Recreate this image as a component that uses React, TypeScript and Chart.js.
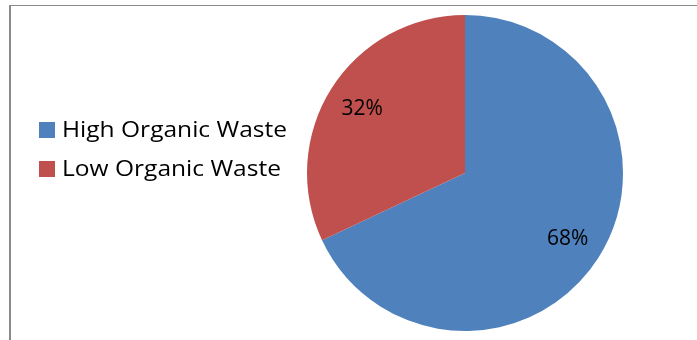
import React, { useEffect, useRef } from "react";
import { Chart, registerables } from "chart.js";

Chart.register(...registerables);

const categories = ["High Organic Waste", "Low Organic Waste"];
const shares = [68, 32];
const sliceColors = ["#4F81BD", "#C0504D"];
const FONT = "'Open Sans', sans-serif";

const labelPlugin = {
  id: "sliceLabels",
  afterDatasetsDraw(chart: any) {
    const ctx = chart.ctx;
    const meta = chart.getDatasetMeta(0);
    ctx.save();
    ctx.font = `21px ${FONT}`;
    ctx.fillStyle = "#000";
    ctx.textAlign = "center";
    ctx.textBaseline = "middle";
    meta.data.forEach((arc: any, i: number) => {
      const mid = (arc.startAngle + arc.endAngle) / 2;
      const r = arc.outerRadius * 0.77;
      const x = arc.x + Math.cos(mid) * r;
      const y = arc.y + Math.sin(mid) * r + 1;
      ctx.fillText(`${shares[i]}%`, x, y);
    });
    ctx.restore();
  },
};

const legendPlugin = {
  id: "sideLegend",
  afterDraw(chart: any) {
    const ctx = chart.ctx;
    ctx.save();
    ctx.font = `21px ${FONT}`;
    ctx.textAlign = "left";
    ctx.textBaseline = "middle";
    const labels = chart.data.labels as string[];
    const colors = chart.data.datasets[0].backgroundColor as string[];
    const w0 = ctx.measureText(labels[0]).width;
    const sx = 225 / w0;
    labels.forEach((lab, i) => {
      const cy = 130 + i * 39;
      ctx.fillStyle = colors[i];
      ctx.fillRect(39, cy - 8, 16, 16);
      ctx.fillStyle = "#000";
      ctx.save();
      ctx.translate(62, cy + 1);
      ctx.scale(sx, 1);
      ctx.fillText(lab, 0, 0);
      ctx.restore();
    });
    ctx.restore();
  },
};

export default function App() {
  const ref = useRef<HTMLCanvasElement | null>(null);
  useEffect(() => {
    document.body.style.margin = "0";
    const chart = new Chart(ref.current!, {
      type: "pie",
      data: {
        labels: categories,
        datasets: [
          {
            data: shares,
            backgroundColor: sliceColors,
            borderWidth: 0,
            hoverOffset: 0,
          },
        ],
      },
      options: {
        responsive: false,
        animation: false,
        devicePixelRatio: 1,
        layout: { padding: { left: 307, right: 74, top: 15, bottom: 9 } },
        plugins: {
          legend: { display: false },
          tooltip: { enabled: false },
        },
      },
      plugins: [labelPlugin, legendPlugin],
    });
    return () => chart.destroy();
  }, []);
  return (
    <div style={{ position: "relative", width: 697, height: 340, background: "#fff", overflow: "hidden" }}>
      <canvas ref={ref} width={697} height={340} style={{ position: "absolute", left: 0, top: 0 }} />
      <div
        style={{
          position: "absolute",
          left: 9,
          top: 5,
          width: 700,
          height: 400,
          borderTop: "1.5px solid #8a8a8a",
          borderLeft: "2px solid #8a8a8a",
          pointerEvents: "none",
        }}
      />
    </div>
  );
}
